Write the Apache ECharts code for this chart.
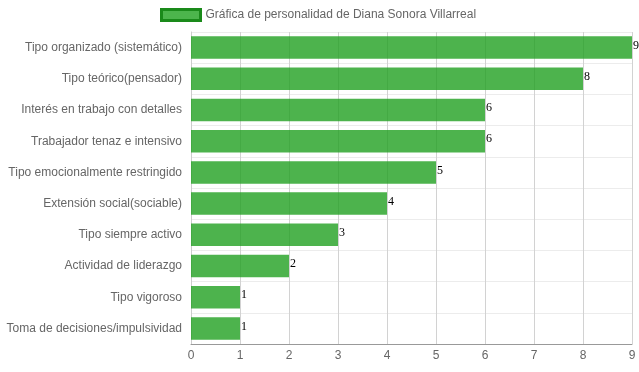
<!DOCTYPE html>
<html><head><meta charset="utf-8">
<script src="https://cdn.jsdelivr.net/npm/echarts@6/dist/echarts.min.js"></script>
<style>html,body{margin:0;padding:0;background:#fff}#c{width:639px;height:372px}</style>
</head><body><div id="c"></div>
<script>
const categories = ["Tipo organizado (sistemático)","Tipo teórico(pensador)","Interés en trabajo con detalles","Trabajador tenaz e intensivo","Tipo emocionalmente restringido","Extensión social(sociable)","Tipo siempre activo","Actividad de liderazgo","Tipo vigoroso","Toma de decisiones/impulsividad"];
const values = [9,8,6,6,5,4,3,2,1,1];
const seriesName = "Gráfica de personalidad de Diana Sonora Villarreal";
const xTicks = {min:0, max:9, interval:1};

const chart = echarts.init(document.getElementById('c'), null, {renderer:'canvas'});
chart.setOption({
  animation:false,
  legend:{
    top:3, left:155, itemWidth:39, itemHeight:11, itemGap:8, icon:'rect',
    textStyle:{color:'#666', fontSize:12, fontFamily:'Liberation Sans, Arial, sans-serif'},
    data:[{name:seriesName, itemStyle:{color:'#4CB54C', borderColor:'#1a8a1a', borderWidth:3}}]
  },
  grid:{left:191, right:7, top:32, bottom:28, containLabel:false},
  xAxis:{
    type:'value', min:xTicks.min, max:xTicks.max, interval:xTicks.interval,
    axisLine:{show:true, lineStyle:{color:'#999'}},
    axisTick:{show:false},
    axisLabel:{color:'#666', fontSize:12, fontFamily:'Liberation Sans, Arial, sans-serif', margin:6},
    splitLine:{show:true, lineStyle:{color:'#d2d2d2', width:1}}
  },
  yAxis:{
    type:'category', data:categories, inverse:true,
    axisLine:{show:true, lineStyle:{color:'#ccc'}},
    axisTick:{show:false},
    axisLabel:{color:'#666', fontSize:12, fontFamily:'Liberation Sans, Arial, sans-serif', margin:9},
    splitLine:{show:true, lineStyle:{color:'#ececec', width:1}}
  },
  series:[{
    name:seriesName, type:'bar', data:values,
    barCategoryGap:'28%',
    itemStyle:{color:'rgba(33,160,33,0.8)'},
    label:{show:true, position:'right', distance:1, offset:[0,-2], color:'#000', fontSize:12, fontFamily:'Liberation Serif, Times New Roman, serif'}
  }]
});
</script></body></html>
